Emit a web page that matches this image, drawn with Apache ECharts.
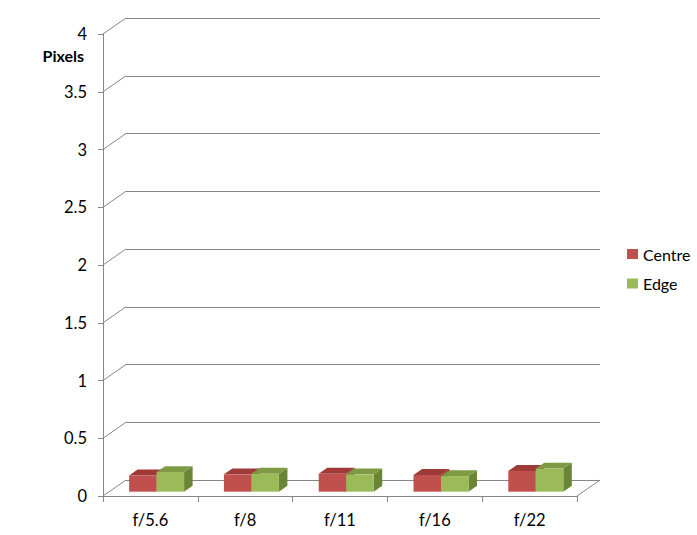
<!DOCTYPE html>
<html>
<head>
<meta charset="utf-8">
<script src="https://cdn.jsdelivr.net/npm/echarts@6/dist/echarts.min.js"></script>
<style>html,body{margin:0;padding:0;background:#fff}#c{width:697px;height:535px}</style>
</head>
<body>
<div id="c"></div>
<script>
const categories = ['f/5.6', 'f/8', 'f/11', 'f/16', 'f/22'];
const centreValues = [0.14, 0.15, 0.155, 0.145, 0.18];
const edgeValues = [0.17, 0.155, 0.15, 0.135, 0.2];
const gridValues = [0, 0.5, 1, 1.5, 2, 2.5, 3, 3.5, 4];
const seriesNames = ['Centre', 'Edge'];

const DX = 23, DY = 16;          // depth offset back -> front
const F0 = 0.27, F1 = 0.64;      // bar depth fractions (0 = front, 1 = back)
const FONT = 'Lato';
const GRAY = '#868686';

const faces = {
  Centre: { front: '#C0504D', top: '#9E3B38', side: '#8E3532' },
  Edge: { front: '#9BBB59', top: '#7E9B43', side: '#6A8535' }
};

function barRender(which) {
  return function (params, api) {
    const idx = api.value(0), val = api.value(1);
    const bw = api.size([1, 0])[0];
    const w = bw * 0.29;
    const base = api.coord([idx, 0]);
    const top = api.coord([idx, val]);
    const cx = base[0];
    const xl = which === 0 ? cx - w : cx;
    const xr = which === 0 ? cx : cx + w;
    const ox0 = -DX * (1 - F0), oy0 = DY * (1 - F0);
    const ox1 = -DX * (1 - F1), oy1 = DY * (1 - F1);
    const yt = top[1], yb = base[1];
    const f = faces[seriesNames[which]];
    return {
      type: 'group',
      children: [
        { type: 'polygon', shape: { points: [[xr + ox0, yt + oy0], [xr + ox1, yt + oy1], [xr + ox1, yb + oy1], [xr + ox0, yb + oy0]] }, style: { fill: f.side } },
        { type: 'polygon', shape: { points: [[xl + ox0, yt + oy0], [xr + ox0, yt + oy0], [xr + ox1, yt + oy1], [xl + ox1, yt + oy1]] }, style: { fill: f.top } },
        { type: 'rect', shape: { x: xl + ox0, y: yt + oy0, width: xr - xl, height: yb - yt }, style: { fill: f.front } }
      ]
    };
  };
}

const chart = echarts.init(document.getElementById('c'), null, { renderer: 'svg' });
chart.setOption({
  animation: false,
  backgroundColor: '#fff',
  textStyle: { fontFamily: FONT },
  grid: [
    { left: 126, width: 474, top: 18, height: 462 },
    { left: 103, width: 474, top: 34, height: 462 }
  ],
  xAxis: [
    { gridIndex: 0, type: 'category', data: categories, show: false, boundaryGap: true },
    {
      gridIndex: 1, type: 'category', data: categories, boundaryGap: true,
      axisLine: { show: true, lineStyle: { color: GRAY, width: 1 } },
      axisTick: { show: true, length: 6, lineStyle: { color: GRAY } },
      axisLabel: { color: '#000', fontSize: 16.5, fontFamily: FONT, margin: 15 },
      splitLine: { show: false }
    }
  ],
  yAxis: [
    {
      gridIndex: 0, type: 'value', min: 0, max: 4, interval: 0.5,
      axisLine: { show: false }, axisTick: { show: false }, axisLabel: { show: false },
      splitLine: { show: true, lineStyle: { color: GRAY, width: 1 } }
    },
    {
      gridIndex: 1, type: 'value', min: 0, max: 4, interval: 0.5,
      axisLine: { show: true, lineStyle: { color: GRAY, width: 1 } },
      axisTick: { show: true, length: 5, lineStyle: { color: GRAY } },
      axisLabel: { color: '#000', fontSize: 16.5, fontFamily: FONT, margin: 16 },
      splitLine: { show: false }
    }
  ],
  legend: {
    orient: 'vertical', left: 622, top: 240,
    icon: 'rect', itemWidth: 11, itemHeight: 10, itemGap: 11.5,
    textStyle: { fontSize: 16, fontFamily: FONT, color: '#000', lineHeight: 18 },
    data: seriesNames
  },
  graphic: [
    { type: 'text', right: 697 - 84, top: 47, style: { text: 'Pixels', font: 'bold 16px ' + FONT, fill: '#000' } }
  ],
  series: [
    {
      type: 'custom', xAxisIndex: 0, yAxisIndex: 0, silent: true, z: 1,
      data: gridValues.map(v => [0, v]),
      renderItem: function (params, api) {
        const cs = params.coordSys;
        const y = api.coord([0, api.value(1)])[1];
        const children = [
          { type: 'line', shape: { x1: cs.x - DX, y1: y + DY, x2: cs.x, y2: y }, style: { stroke: GRAY, lineWidth: 1 } }
        ];
        if (api.value(1) === 0) {
          children.push({ type: 'line', shape: { x1: cs.x + cs.width - DX, y1: y + DY, x2: cs.x + cs.width, y2: y }, style: { stroke: GRAY, lineWidth: 1 } });
        }
        return { type: 'group', children: children };
      }
    },
    {
      name: 'Centre', type: 'custom', xAxisIndex: 0, yAxisIndex: 0, z: 3,
      itemStyle: { color: faces.Centre.front },
      data: centreValues.map((v, i) => [i, v]),
      renderItem: barRender(0)
    },
    {
      name: 'Edge', type: 'custom', xAxisIndex: 0, yAxisIndex: 0, z: 4,
      itemStyle: { color: faces.Edge.front },
      data: edgeValues.map((v, i) => [i, v]),
      renderItem: barRender(1)
    }
  ]
});
</script>
</body>
</html>
